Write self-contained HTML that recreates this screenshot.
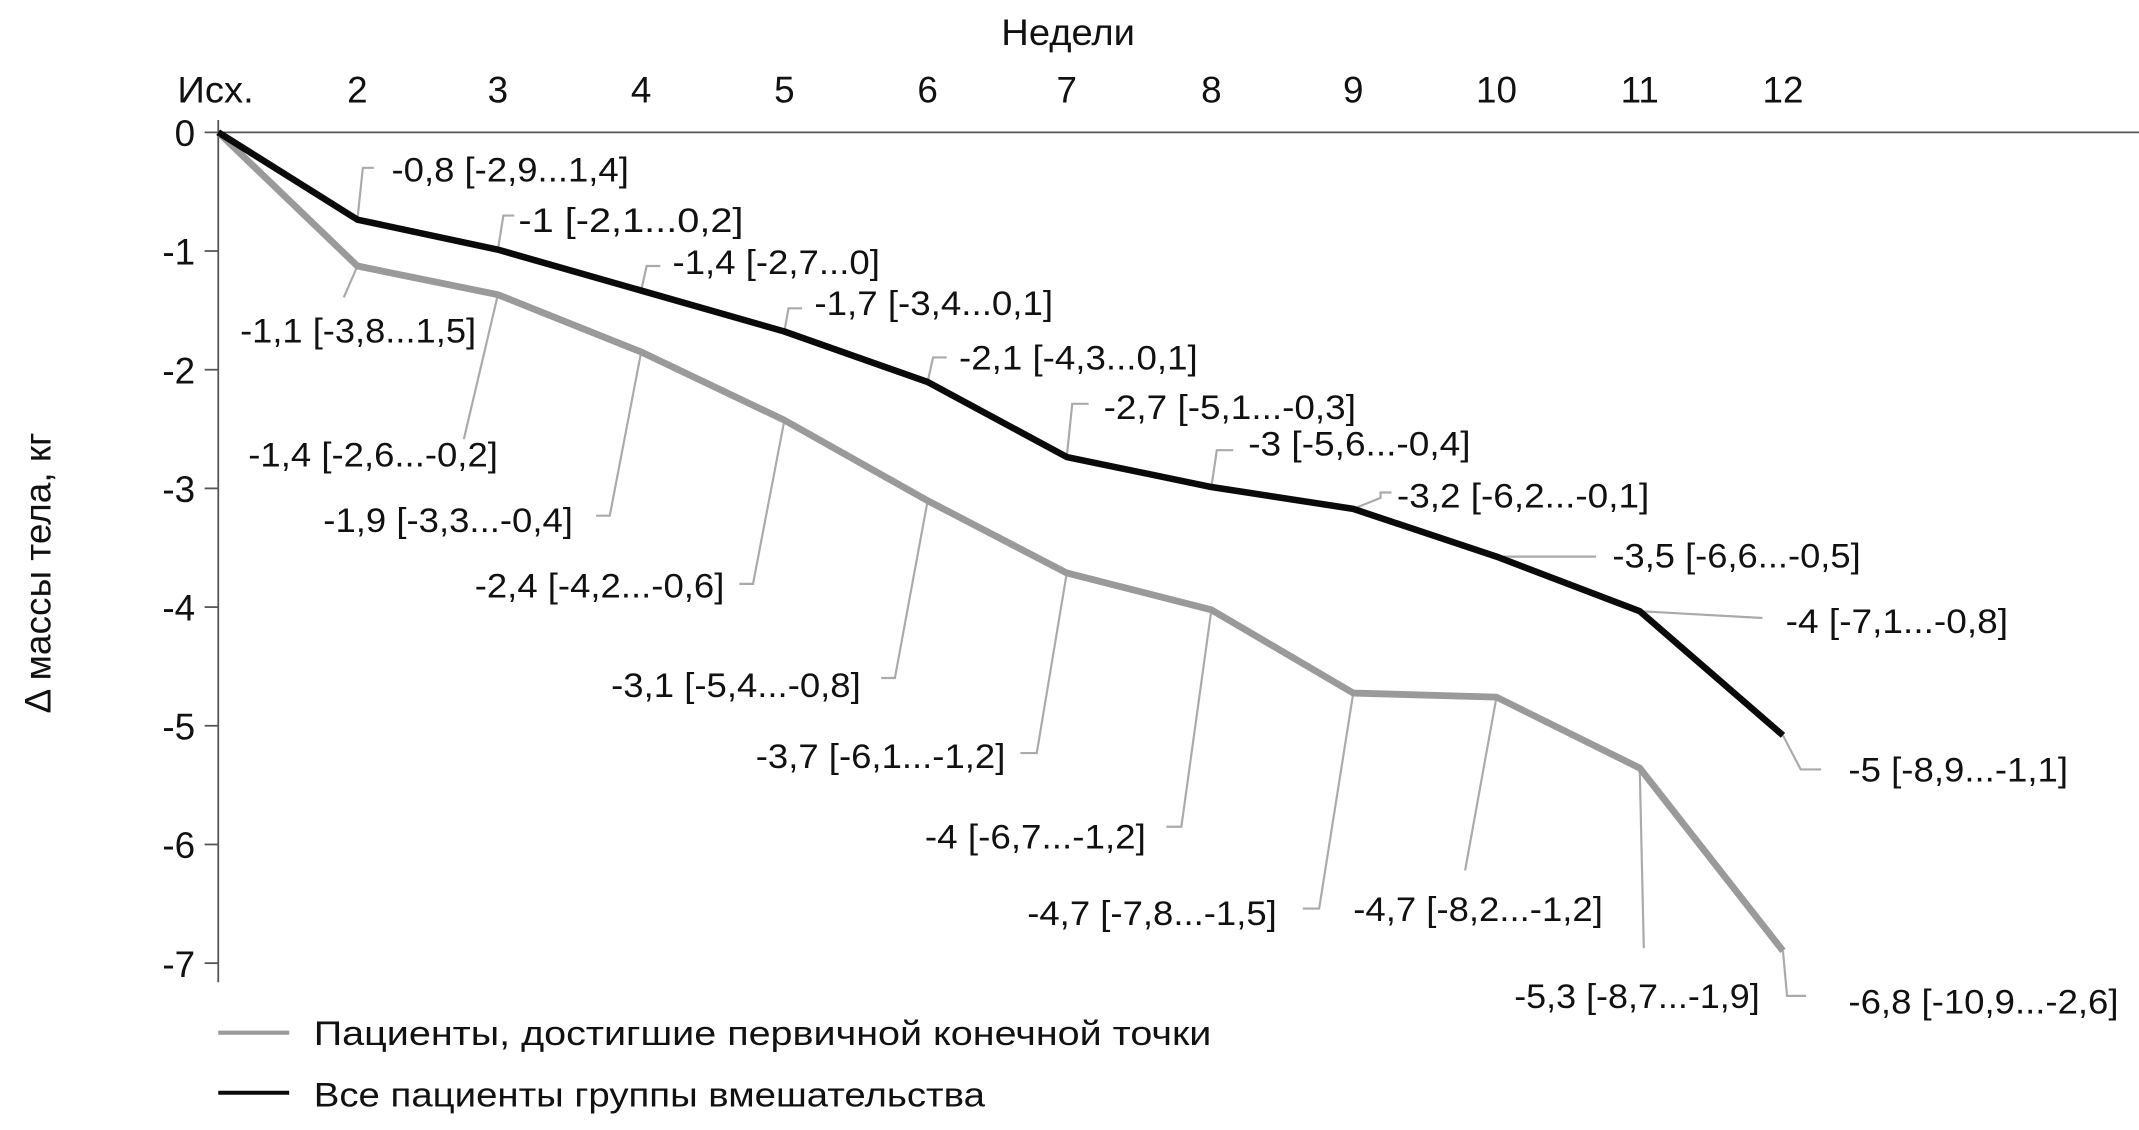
<!DOCTYPE html>
<html><head><meta charset="utf-8"><style>
html,body{margin:0;padding:0;background:#fff;}
svg{display:block;}
text{font-family:"Liberation Sans",sans-serif;fill:#111;}
.d{font-size:25px;}
.t{font-size:27px;}
</style></head><body>
<svg width="2139" height="1130" viewBox="0 0 1568 828.3" preserveAspectRatio="none" xmlns="http://www.w3.org/2000/svg">
<rect width="1568" height="828.3" fill="#fff"/>
<text class="t" x="783" y="33" text-anchor="middle" textLength="98" lengthAdjust="spacingAndGlyphs">Недели</text>
<g class="t" text-anchor="middle">
<text x="158" y="75" textLength="56" lengthAdjust="spacingAndGlyphs">Исх.</text>
<text x="262" y="75">2</text><text x="365" y="75">3</text><text x="470" y="75">4</text><text x="575" y="75">5</text><text x="680" y="75">6</text><text x="782" y="75">7</text><text x="888" y="75">8</text><text x="992" y="75">9</text><text x="1097" y="75">10</text><text x="1202" y="75">11</text><text x="1307" y="75">12</text>
</g>
<g class="t" text-anchor="end">
<text x="143" y="107">0</text><text x="143" y="194">-1</text><text x="143" y="281">-2</text><text x="143" y="368">-3</text><text x="143" y="455">-4</text><text x="143" y="542">-5</text><text x="143" y="629">-6</text><text x="143" y="716">-7</text>
</g>
<text class="t" transform="translate(37,420) rotate(-90)" text-anchor="middle" textLength="206" lengthAdjust="spacingAndGlyphs">Δ массы тела, кг</text>
<g stroke="#555" stroke-width="1.3" fill="none">
<line x1="160" y1="88" x2="160" y2="720"/>
<line x1="150" y1="97" x2="1568" y2="97"/>
<line x1="150" y1="184" x2="160" y2="184"/><line x1="150" y1="271" x2="160" y2="271"/><line x1="150" y1="358" x2="160" y2="358"/><line x1="150" y1="445" x2="160" y2="445"/><line x1="150" y1="532" x2="160" y2="532"/><line x1="150" y1="619" x2="160" y2="619"/><line x1="150" y1="706" x2="160" y2="706"/>
</g>
<g stroke="#aaa" stroke-width="1.6" fill="none">
<polyline points="262,161 266,123 274,123"/>
<polyline points="365,183 369,158 377,158"/>
<polyline points="470,213 474,195 484,195"/>
<polyline points="575,243 578,226 588,226"/>
<polyline points="680,280 684,262 694,262"/>
<polyline points="782,335 786,296 798,296"/>
<polyline points="888,357 892,330 904,330"/>
<polyline points="992,373 1012,365 1012,361 1020,361"/>
<polyline points="1097,408 1170,408"/>
<polyline points="1202,448 1292,453"/>
<polyline points="1307,539 1320,564 1335,564"/>
<polyline points="262,195 252,218"/>
<polyline points="365,216 340,322"/>
<polyline points="470,258 447,378 437,378"/>
<polyline points="575,308 552,428 542,428"/>
<polyline points="680,367 656,497 646,497"/>
<polyline points="782,420 760,552 748,552"/>
<polyline points="888,447 866,606 855,606"/>
<polyline points="992,508 967,666 955,666"/>
<polyline points="1097,511 1074,638"/>
<polyline points="1202,563 1205,695"/>
<polyline points="1307,697 1310,730 1324,730"/>
</g>
<polyline fill="none" stroke="#9a9a9a" stroke-width="5" stroke-linejoin="round" points="160,97 262,195 365,216 470,258 575,308 680,367 782,420 888,447 992,508 1097,511 1202,563 1307,697"/>
<polyline fill="none" stroke="#0a0a0a" stroke-width="4.8" stroke-linejoin="round" points="160,97 262,161 365,183 470,213 575,243 680,280 782,335 888,357 992,373 1097,408 1202,448 1307,539"/>
<g class="d">
<text x="287" y="133" textLength="174" lengthAdjust="spacingAndGlyphs">-0,8 [-2,9...1,4]</text>
<text x="380" y="170" textLength="165" lengthAdjust="spacingAndGlyphs">-1 [-2,1...0,2]</text>
<text x="493" y="201" textLength="152" lengthAdjust="spacingAndGlyphs">-1,4 [-2,7...0]</text>
<text x="597" y="231" textLength="175" lengthAdjust="spacingAndGlyphs">-1,7 [-3,4...0,1]</text>
<text x="703" y="271" textLength="175" lengthAdjust="spacingAndGlyphs">-2,1 [-4,3...0,1]</text>
<text x="809" y="307" textLength="185" lengthAdjust="spacingAndGlyphs">-2,7 [-5,1...-0,3]</text>
<text x="915" y="334" textLength="163" lengthAdjust="spacingAndGlyphs">-3 [-5,6...-0,4]</text>
<text x="1024" y="372" textLength="185" lengthAdjust="spacingAndGlyphs">-3,2 [-6,2...-0,1]</text>
<text x="1182" y="416" textLength="182" lengthAdjust="spacingAndGlyphs">-3,5 [-6,6...-0,5]</text>
<text x="1309" y="464" textLength="163" lengthAdjust="spacingAndGlyphs">-4 [-7,1...-0,8]</text>
<text x="1355" y="573" textLength="161" lengthAdjust="spacingAndGlyphs">-5 [-8,9...-1,1]</text>
<text x="176" y="251" textLength="173" lengthAdjust="spacingAndGlyphs">-1,1 [-3,8...1,5]</text>
<text x="182" y="342" textLength="183" lengthAdjust="spacingAndGlyphs">-1,4 [-2,6...-0,2]</text>
<text x="237" y="390" textLength="183" lengthAdjust="spacingAndGlyphs">-1,9 [-3,3...-0,4]</text>
<text x="348" y="438" textLength="183" lengthAdjust="spacingAndGlyphs">-2,4 [-4,2...-0,6]</text>
<text x="448" y="511" textLength="183" lengthAdjust="spacingAndGlyphs">-3,1 [-5,4...-0,8]</text>
<text x="554" y="563" textLength="183" lengthAdjust="spacingAndGlyphs">-3,7 [-6,1...-1,2]</text>
<text x="678" y="622" textLength="162" lengthAdjust="spacingAndGlyphs">-4 [-6,7...-1,2]</text>
<text x="753" y="678" textLength="183" lengthAdjust="spacingAndGlyphs">-4,7 [-7,8...-1,5]</text>
<text x="992" y="675" textLength="183" lengthAdjust="spacingAndGlyphs">-4,7 [-8,2...-1,2]</text>
<text x="1110" y="739" textLength="180" lengthAdjust="spacingAndGlyphs">-5,3 [-8,7...-1,9]</text>
<text x="1355" y="743" textLength="198" lengthAdjust="spacingAndGlyphs">-6,8 [-10,9...-2,6]</text>
</g>
<line x1="160" y1="757" x2="212" y2="757" stroke="#9a9a9a" stroke-width="3"/>
<line x1="160" y1="801" x2="212" y2="801" stroke="#0a0a0a" stroke-width="3"/>
<text class="d" x="230" y="766" textLength="658" lengthAdjust="spacingAndGlyphs">Пациенты, достигшие первичной конечной точки</text>
<text class="d" x="230" y="811" textLength="492" lengthAdjust="spacingAndGlyphs">Все пациенты группы вмешательства</text>
</svg>
</body></html>
